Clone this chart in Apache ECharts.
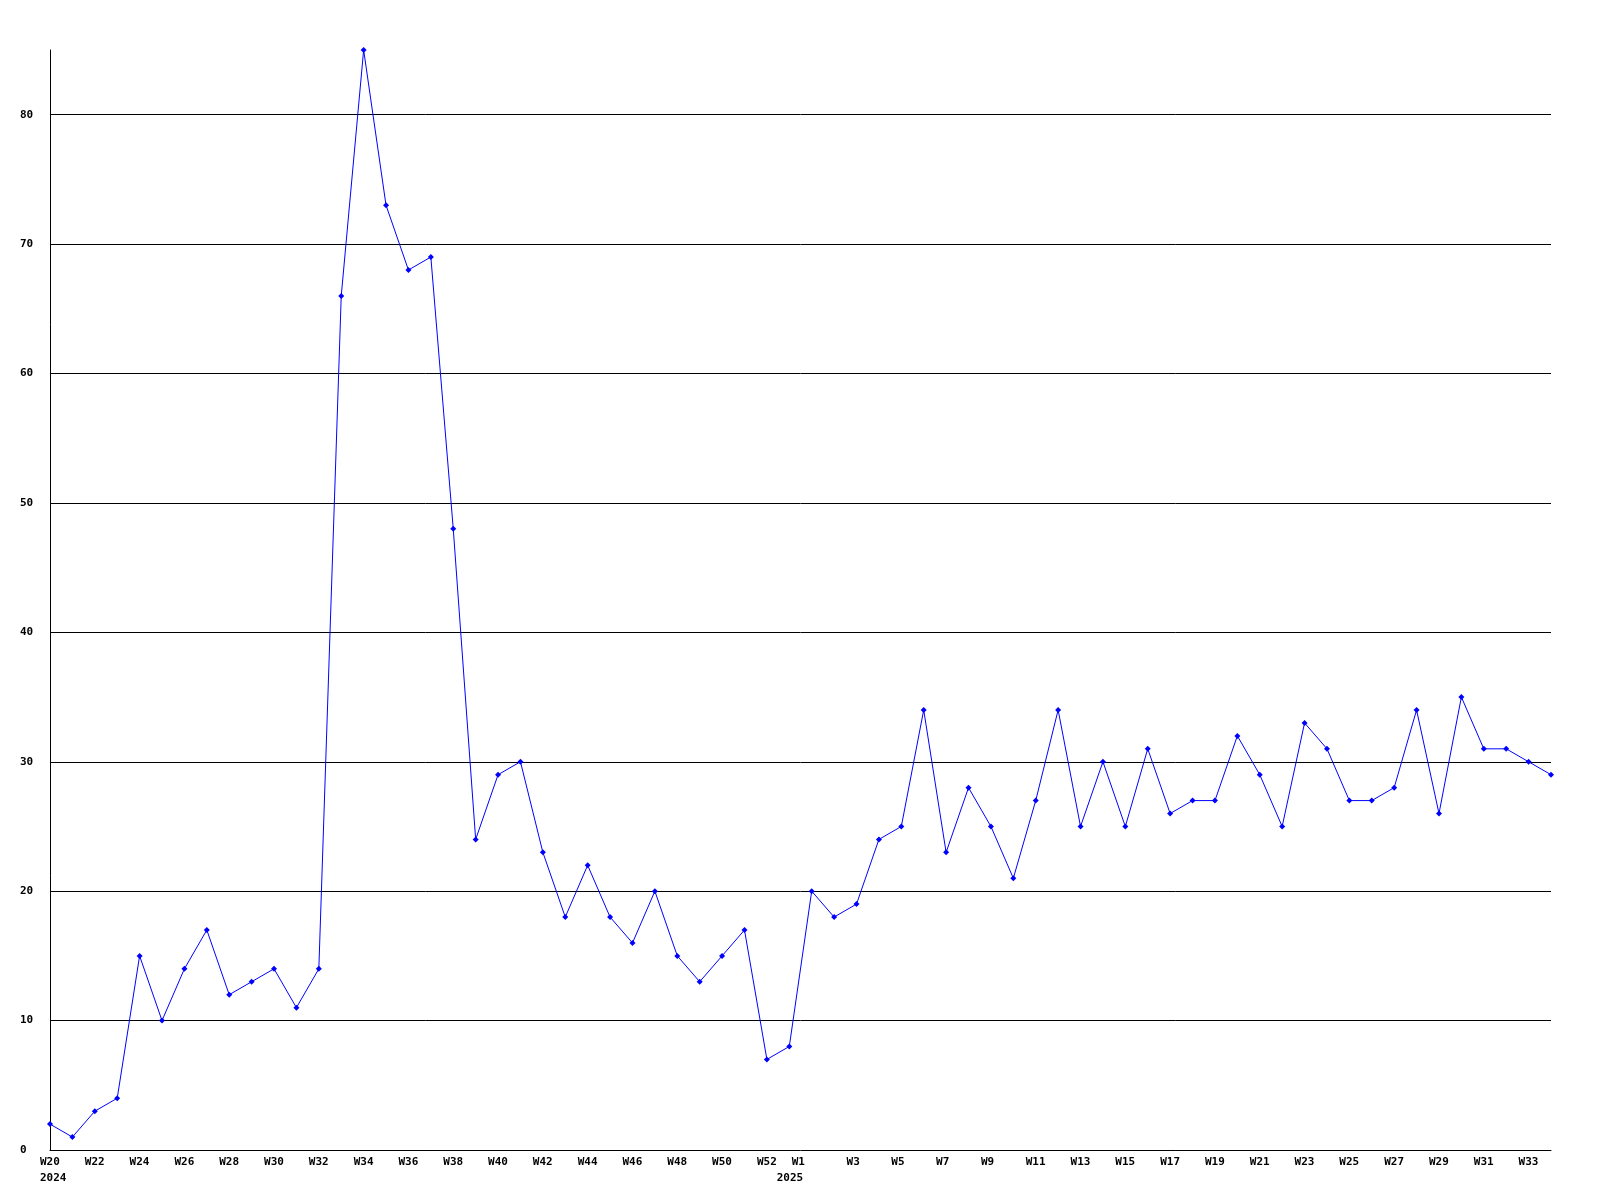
<!DOCTYPE html>
<html>
<head>
<meta charset="utf-8">
<script src="https://cdn.jsdelivr.net/npm/echarts@6/dist/echarts.min.js"></script>
<style>
html,body{margin:0;padding:0;background:#fff;}
#chart{width:1600px;height:1200px;}
</style>
</head>
<body>
<div id="chart"></div>
<script>
const weeks = ['W20','W21','W22','W23','W24','W25','W26','W27','W28','W29','W30','W31','W32','W33','W34','W35','W36','W37','W38','W39','W40','W41','W42','W43','W44','W45','W46','W47','W48','W49','W50','W51','W52','W53',
  'W1','W2','W3','W4','W5','W6','W7','W8','W9','W10','W11','W12','W13','W14','W15','W16','W17','W18','W19','W20','W21','W22','W23','W24','W25','W26','W27','W28','W29','W30','W31','W32','W33','W34'];
const years = {0: '2024', 34: '2025'};
const values = [2,1,3,4,15,10,14,17,12,13,14,11,14,66,85,73,68,69,48,24,29,30,23,18,22,18,16,20,15,13,15,17,7,8,
  20,18,19,24,25,34,23,28,25,21,27,34,25,30,25,31,26,27,27,32,29,25,33,31,27,27,28,34,26,35,31,31,30,29];
const gridValues = [10,20,30,40,50,60,70,80];
const yTicks = [0,10,20,30,40,50,60,70,80];

const chart = echarts.init(document.getElementById('chart'));
const font = {fontFamily: 'DejaVu Sans Mono', fontSize: 11, fontWeight: 'bold', color: '#000'};
function rs(w) { return Object.assign({width: w, align: 'left', lineHeight: 16}, font); }
chart.setOption({
  animation: false,
  backgroundColor: '#fff',
  grid: {left: 50, right: 49, top: 50, bottom: 50, containLabel: false},
  xAxis: {
    type: 'category',
    data: weeks,
    boundaryGap: false,
    axisLine: {lineStyle: {color: '#000', width: 1}},
    axisTick: {show: false},
    axisLabel: Object.assign({
      interval: 1,
      margin: 4,
      lineHeight: 16,
      verticalAlign: 'top',
      formatter: function (v, i) {
        if (years[i] === '2024') return '{wk|' + v + '}\n{y0|' + years[i] + '}';
        if (years[i] === '2025') return '{sp| }{wk|' + v + '}\n{y1|' + years[i] + '}';
        return '{wk|' + v + '}';
      },
      rich: {wk: rs(20), sp: rs(15), y0: rs(20), y1: rs(70)}
    }, font),
    splitLine: {show: false}
  },
  yAxis: {
    type: 'value',
    min: 0,
    max: 85,
    interval: 10,
    axisLine: {show: true, lineStyle: {color: '#000', width: 1}},
    axisTick: {show: false},
    axisLabel: Object.assign({
      align: 'left',
      margin: 30,
      showMaxLabel: false,
      formatter: function (v) { return yTicks.indexOf(v) >= 0 ? String(v) : ''; }
    }, font),
    splitLine: {show: false}
  },
  series: [{
    type: 'line',
    data: values,
    smooth: false,
    symbol: 'diamond',
    symbolSize: 6,
    showSymbol: true,
    lineStyle: {color: '#0000ff', width: 1},
    itemStyle: {color: '#0000ff'},
    z: 3,
    markLine: {
      silent: true,
      symbol: ['none', 'none'],
      label: {show: false},
      lineStyle: {color: '#000', width: 1, type: 'solid'},
      data: gridValues.map(v => ({yAxis: v})),
      z: 1
    }
  }]
});
</script>
</body>
</html>
